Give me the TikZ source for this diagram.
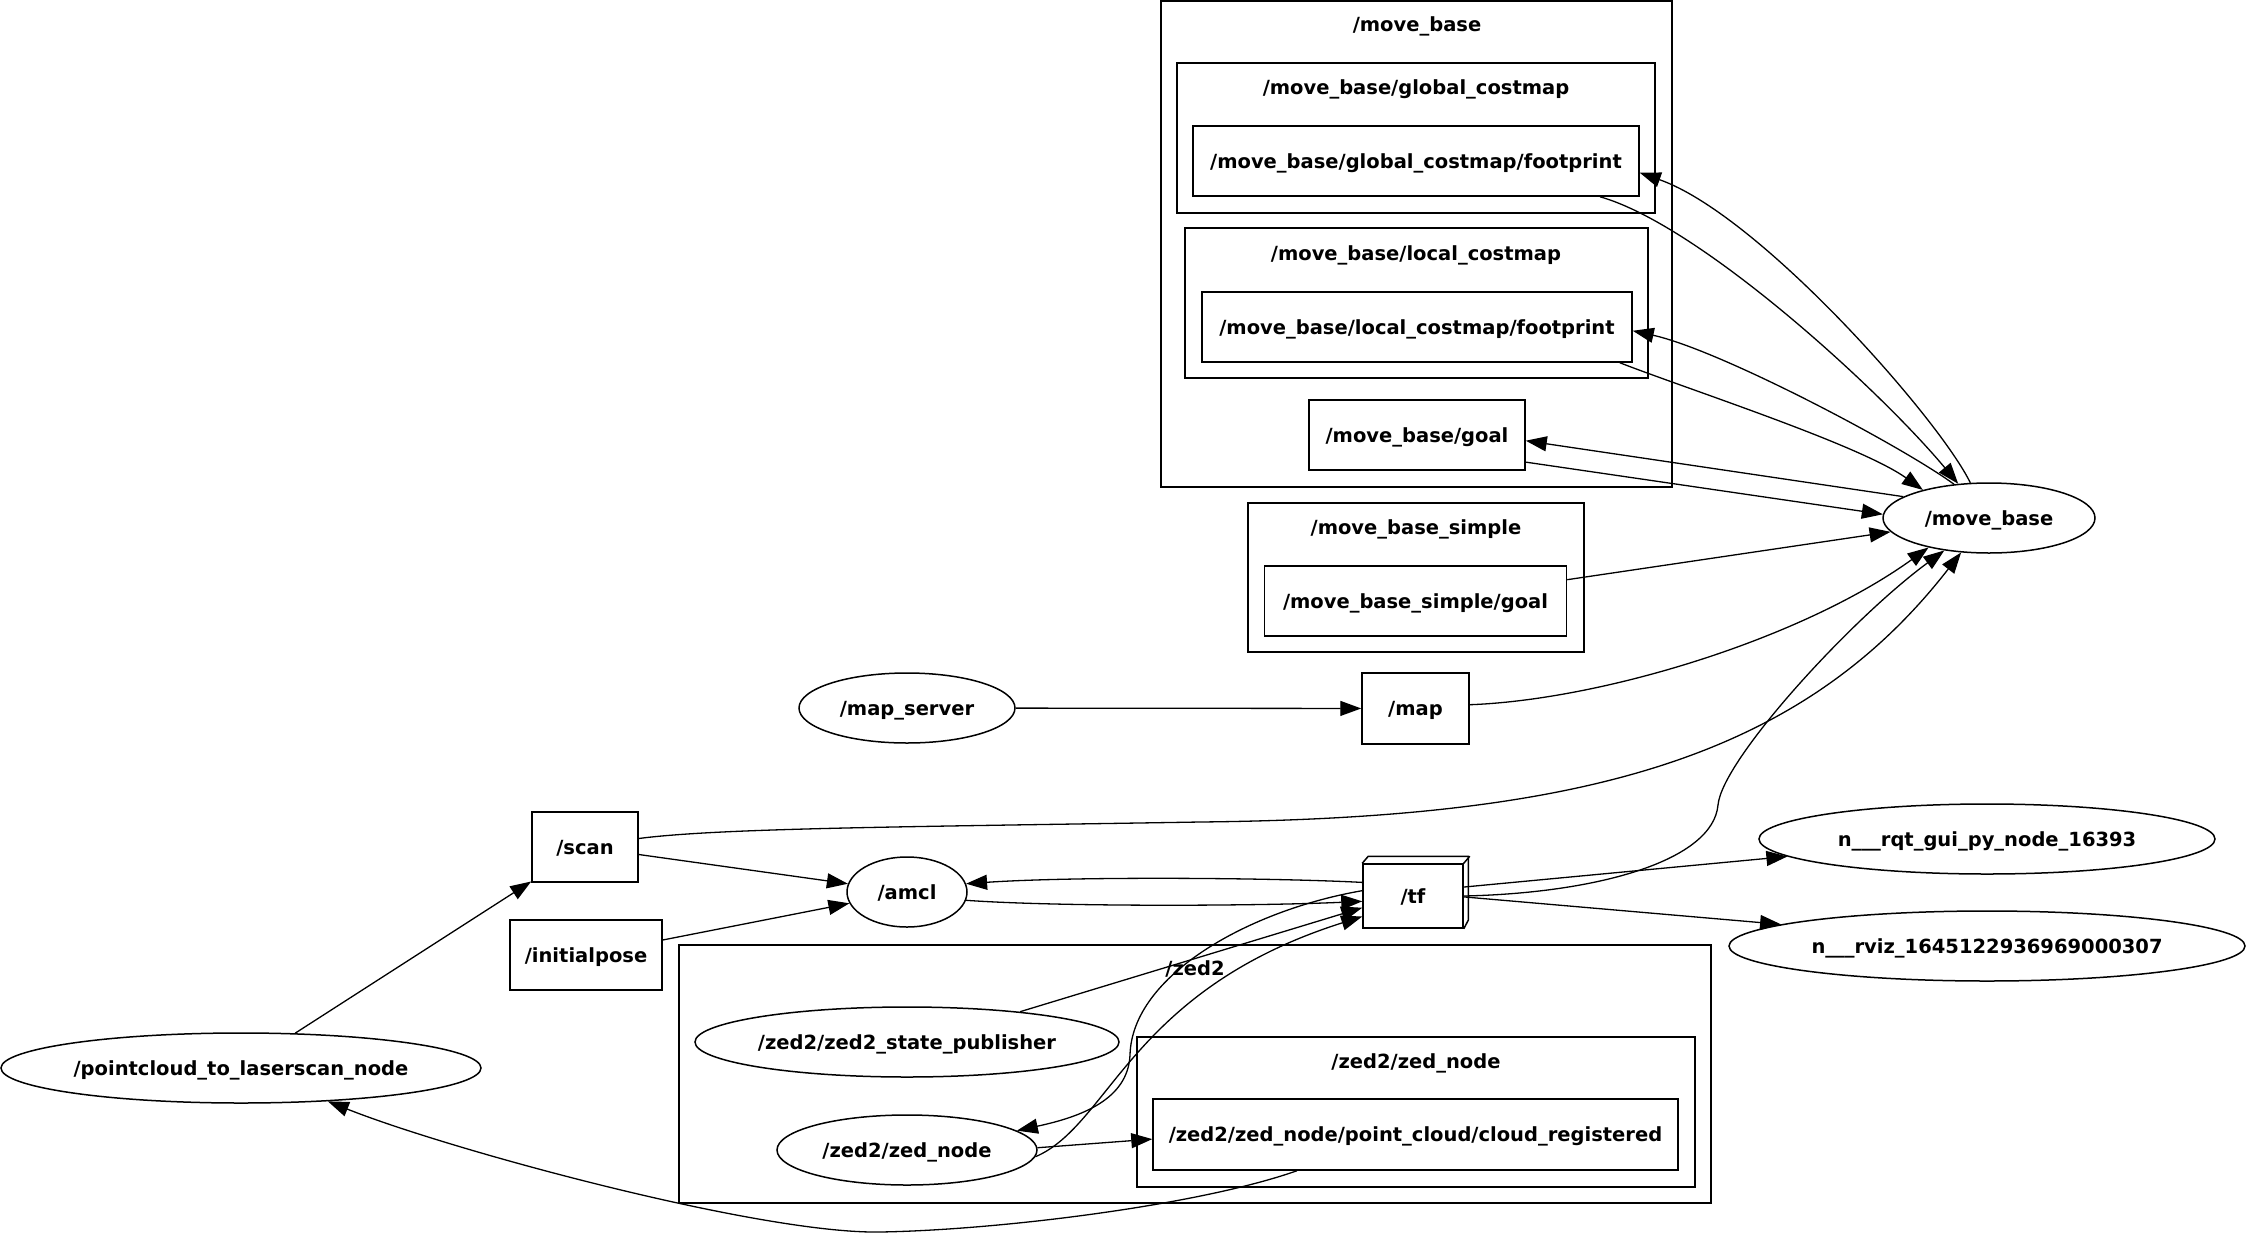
\documentclass[tikz,border=0pt]{standalone}
\usepackage{fontspec}
\setmainfont{DejaVu Sans}
\usepackage{tikz}
\usetikzlibrary{arrows.meta,shapes.geometric}

\begin{document}
\begin{tikzpicture}[
  x=1pt,y=-1pt,
  font=\fontsize{19.5}{23}\selectfont\bfseries,
  every node/.style={text height=15.5pt,text depth=1pt},
  topic/.style={draw,rectangle,line width=1.5pt,inner sep=0pt,minimum height=70pt},
  rosnode/.style={draw,ellipse,line width=1.5pt,inner sep=0pt,minimum height=70pt},
  cluster/.style={draw,line width=1.5pt},
  ctitle/.style={inner sep=0pt},
  arr/.style={-{Triangle[length=21pt,width=15pt]},line width=1.3pt}
]
\useasboundingbox (0,0) rectangle (2247,1243);

\draw[cluster] (1161,1) rectangle (1672,487);
\node[ctitle] (tmb) at (1417,24) {/move\_base};
\draw[cluster] (1177,63) rectangle (1655,213);
\node[ctitle] (tglobal) at (1416,87) {/move\_base/global\_costmap};
\draw[cluster] (1185,228) rectangle (1648,378);
\node[ctitle] (tlocal) at (1416,253) {/move\_base/local\_costmap};
\draw[cluster] (1248,503) rectangle (1584,652);
\node[ctitle] (tsimple) at (1416,527) {/move\_base\_simple};
\draw[cluster] (679,945) rectangle (1711,1203);
\node[ctitle] (tzed) at (1195,968) {/zed2};
\draw[cluster] (1137,1037) rectangle (1695,1187);
\node[ctitle] (tzednode) at (1416,1061) {/zed2/zed\_node};

\node[topic,minimum width=446pt] (gfoot) at (1416,161) {/move\_base/global\_costmap/footprint};
\node[topic,minimum width=430pt] (lfoot) at (1417,327) {/move\_base/local\_costmap/footprint};
\node[topic,minimum width=216pt] (mbgoal) at (1417,435) {/move\_base/goal};
\node[topic,minimum width=302pt] (mbsgoal) at (1415.5,601) {/move\_base\_simple/goal};
\node[topic,minimum width=107pt,minimum height=71pt] (map) at (1415.5,708.5) {/map};
\node[topic,minimum width=106pt] (scan) at (585,847) {/scan};
\node[topic,minimum width=152pt] (initpose) at (586,955) {/initialpose};
\node[topic,minimum width=100pt,minimum height=64pt] (tf) at (1413,896) {/tf};
\draw[line width=1.5pt] (tf.north west) -- ++(6,-7) -- ++(100,0) -- ++(0,64) -- (tf.south east);
\draw[line width=1.5pt] (tf.north east) -- ++(6,-7);
\node[topic,minimum width=525pt,minimum height=71pt] (cloud) at (1415.5,1134.5) {/zed2/zed\_node/point\_cloud/cloud\_registered};

\node[rosnode,minimum width=212pt] (mb) at (1989,518) {/move\_base};
\node[rosnode,minimum width=216pt] (mapsrv) at (907,708) {/map\_server};
\node[rosnode,minimum width=120pt] (amcl) at (907,892) {/amcl};
\node[rosnode,minimum width=424pt] (statepub) at (907,1042) {/zed2/zed2\_state\_publisher};
\node[rosnode,minimum width=260pt] (zednode) at (907,1150) {/zed2/zed\_node};
\node[rosnode,minimum width=480pt] (pc2ls) at (241,1068) {/pointcloud\_to\_laserscan\_node};
\node[rosnode,minimum width=456pt] (rqt) at (1987,839) {n\_\_\_rqt\_gui\_py\_node\_16393};
\node[rosnode,minimum width=516pt] (rviz) at (1987,946) {n\_\_\_rviz\_1645122936969000307};

\draw[arr] (mb.118) .. controls (1940,420) and (1760,215) .. (gfoot.-3.6);
\draw[arr] (gfoot.-11.2) .. controls (1700,225) and (1880,390) .. (mb.132);
\draw[arr] (mb.136) .. controls (1900,445) and (1720,350) .. (lfoot.-1.3);
\draw[arr] (lfoot.-10.8) .. controls (1690,390) and (1860,445) .. (mb.157);
\draw[arr] (mb.166) -- (mbgoal.-3.2);
\draw[arr] (mbgoal.-14.5) -- (mb.178);
\draw[arr] (mbsgoal.8.6) -- (mb.188);
\draw[arr] (map.4.3) .. controls (1600,700) and (1800,640) .. (mb.206);
\draw[arr] (scan.9.6) .. controls (720,828) and (900,827) .. (1200,822) .. controls (1580,818) and (1800,760) .. (mb.231);
\draw[arr] (tf.east) .. controls (1600,893) and (1713,860) .. (1718,805) .. controls (1722,760) and (1850,620) .. (mb.216);
\draw[arr] (mapsrv) -- (map);
\draw[arr] (scan) -- (amcl);
\draw[arr] (initpose) -- (amcl);
\draw[arr] (tf.165.4) .. controls (1280,878) and (1080,876) .. (amcl.8.4);
\draw[arr] (amcl.-8.4) .. controls (1060,907) and (1260,906) .. (tf.186.8);
\draw[arr] (statepub.15.8) -- (tf.193.5);
\draw[arr] (zednode.-3.5) .. controls (1110,1125) and (1130,990) .. (tf.202.8);
\draw[arr] (tf.174) .. controls (1250,910) and (1132,975) .. (1130,1055) .. controls (1128,1100) and (1080,1117) .. (zednode.10.3);
\draw[arr] (zednode.1.3) -- (cloud.181.9);
\draw[arr] (cloud.197.8) .. controls (1200,1205) and (1000,1230) .. (880,1232) .. controls (760,1234) and (450,1150) .. (pc2ls.-21);
\draw[arr] (pc2ls) -- (scan);
\draw[arr] (tf.10.2) -- (rqt.185.5);
\draw[arr] (tf.-1) -- (rviz.174.9);
\end{tikzpicture}
\end{document}
